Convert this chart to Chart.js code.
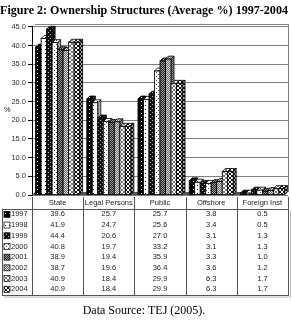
<!DOCTYPE html>
<html>
<head>
<meta charset="utf-8">
<script src="https://cdn.jsdelivr.net/npm/chart.js@4"></script>
<style>
  body { margin: 0; background: #fff; }
  canvas { display: block; }
</style>
</head>
<body>
<canvas id="myChart" width="292" height="323"></canvas>
<script>
// categories and years (series)
const categories = ['State', 'Legal Persons', 'Public', 'Offshore', 'Foreign Inst'];
const years = ['1997', '1998', '1999', '2000', '2001', '2002', '2003', '2004'];

// values per year, same order as categories
const v1997 = [39.6, 25.7, 25.7, 3.8, 0.5];
const v1998 = [41.9, 24.7, 25.6, 3.4, 0.5];
const v1999 = [44.4, 20.6, 27.0, 3.1, 1.3];
const v2000 = [40.8, 19.7, 33.2, 3.1, 1.3];
const v2001 = [38.9, 19.4, 35.9, 3.3, 1.0];
const v2002 = [38.7, 19.6, 36.4, 3.6, 1.2];
const v2003 = [40.9, 18.4, 29.9, 6.3, 1.7];
const v2004 = [40.9, 18.4, 29.9, 6.3, 1.7];
const values = [v1997, v1998, v1999, v2000, v2001, v2002, v2003, v2004];

const yTicks = [0, 5, 10, 15, 20, 25, 30, 35, 40, 45];

// small 4x4 fill patterns, like the old Excel b/w fills
const CHECK = [[0,0],[2,0],[1,1],[3,1],[0,2],[2,2],[1,3],[3,3]];
const CROSS = [[0,0],[1,1],[2,2],[3,3],[3,0],[2,1],[1,2],[0,3]];
function makePattern(bg, fg, dots) {
  let c = document.createElement('canvas');
  c.width = 4; c.height = 4;
  let g = c.getContext('2d');
  g.fillStyle = bg;
  g.fillRect(0, 0, 4, 4);
  g.fillStyle = fg;
  dots.forEach(d => g.fillRect(d[0], d[1], 1, 1));
  return g.createPattern(c, 'repeat');
}
const fills = [
  makePattern('#000', '#fff', [[1,1]]),
  makePattern('#fff', '#000', [[1,1]]),
  makePattern('#111', '#bbb', [[0,0],[2,2]]),
  makePattern('#fff', '#444', [[0,0],[2,2]]),
  makePattern('#222', '#999', CHECK),
  makePattern('#666', '#ddd', CHECK),
  makePattern('#fff', '#777', CROSS),
  makePattern('#fff', '#111', CROSS)
];

const DEPTH = 3;
const txtFont = '7.5px "Liberation Sans"';

// draws the 3D faces of the bars, floor, back wall and the data table
const excelLook = {
  id: 'excelLook',
  beforeDatasetsDraw(chart) {
    const ctx = chart.ctx, a = chart.chartArea;
    ctx.save();
    // back wall outline
    ctx.strokeStyle = '#808080';
    ctx.lineWidth = 1;
    ctx.beginPath();
    ctx.moveTo(a.left + DEPTH, a.top - DEPTH + 0.5);
    ctx.lineTo(a.right + 0.5, a.top - DEPTH + 0.5);
    ctx.lineTo(a.right + 0.5, a.bottom - DEPTH);
    ctx.stroke();
    // floor
    ctx.fillStyle = '#555';
    ctx.beginPath();
    ctx.moveTo(a.left, a.bottom);
    ctx.lineTo(a.right - DEPTH, a.bottom);
    ctx.lineTo(a.right, a.bottom - DEPTH);
    ctx.lineTo(a.left + DEPTH, a.bottom - DEPTH);
    ctx.closePath();
    ctx.fill();
    ctx.restore();
  },
  afterDatasetsDraw(chart) {
    const ctx = chart.ctx;
    ctx.save();
    ctx.lineWidth = 0.8;
    ctx.strokeStyle = '#000';
    for (let j = 0; j < categories.length; j++) {
      for (let i = 0; i < years.length; i++) {
        const bar = chart.getDatasetMeta(i).data[j];
        const l = bar.x - bar.width / 2, r = bar.x + bar.width / 2;
        const t = bar.y, b = bar.base;
        // right side face
        ctx.fillStyle = fills[i];
        ctx.beginPath();
        ctx.moveTo(r, b);
        ctx.lineTo(r + DEPTH, b - DEPTH);
        ctx.lineTo(r + DEPTH, t - DEPTH);
        ctx.lineTo(r, t);
        ctx.closePath();
        ctx.fill();
        ctx.fillStyle = 'rgba(0,0,0,0.3)';
        ctx.fill();
        ctx.stroke();
        // top face
        ctx.fillStyle = fills[i];
        ctx.beginPath();
        ctx.moveTo(l, t);
        ctx.lineTo(l + DEPTH, t - DEPTH);
        ctx.lineTo(r + DEPTH, t - DEPTH);
        ctx.lineTo(r, t);
        ctx.closePath();
        ctx.fill();
        ctx.stroke();
        // front
        ctx.fillRect(l, t, r - l, b - t);
        ctx.strokeRect(l, t, r - l, b - t);
      }
    }
    ctx.restore();
  },
  afterDraw(chart) {
    const ctx = chart.ctx, a = chart.chartArea;
    const xs = chart.scales.x;
    const colW = xs.getPixelForValue(1) - xs.getPixelForValue(0);
    const tLeft = 2;
    const tTop = a.bottom + 2;
    const headH = 11.5;
    const rowH = 10.7;
    const tBottom = tTop + headH + rowH * years.length + 1;
    const colEdge = k => xs.getPixelForValue(0) - colW / 2 + k * colW;

    ctx.save();
    // "%" axis label
    ctx.font = txtFont;
    ctx.fillStyle = '#222';
    ctx.textAlign = 'left';
    ctx.textBaseline = 'middle';
    ctx.fillText('%', 4, (a.top + a.bottom) / 2 - 1);

    // table lines
    ctx.strokeStyle = '#555';
    ctx.lineWidth = 1;
    ctx.beginPath();
    for (let k = 0; k <= categories.length; k++) {
      const x = Math.round(colEdge(k)) + 0.5;
      ctx.moveTo(x, tTop);
      ctx.lineTo(x, tBottom);
    }
    ctx.moveTo(tLeft + 0.5, tTop + headH);
    ctx.lineTo(tLeft + 0.5, tBottom);
    ctx.moveTo(tLeft, Math.round(tTop + headH) + 0.5);
    ctx.lineTo(colEdge(categories.length), Math.round(tTop + headH) + 0.5);
    ctx.moveTo(tLeft, Math.round(tBottom) + 0.5);
    ctx.lineTo(colEdge(categories.length) + 1, Math.round(tBottom) + 0.5);
    ctx.stroke();
    // light shadow on the right
    ctx.strokeStyle = '#bbb';
    ctx.beginPath();
    ctx.moveTo(Math.round(colEdge(categories.length)) + 2.5, tTop + headH + 2);
    ctx.lineTo(Math.round(colEdge(categories.length)) + 2.5, tBottom + 2);
    ctx.lineTo(tLeft + 2, tBottom + 2);
    ctx.stroke();

    // header
    ctx.fillStyle = '#222';
    ctx.textAlign = 'center';
    categories.forEach((c, j) => {
      ctx.fillText(c, xs.getPixelForValue(j), tTop + headH / 2 + 0.5);
    });
    // rows
    years.forEach((y, i) => {
      const cy = tTop + headH + rowH * (i + 0.5) + 0.5;
      ctx.fillStyle = fills[i];
      ctx.fillRect(4, cy - 3, 6, 6);
      ctx.strokeStyle = '#000';
      ctx.lineWidth = 0.7;
      ctx.strokeRect(4, cy - 3, 6, 6);
      ctx.fillStyle = '#222';
      ctx.textAlign = 'left';
      ctx.fillText(y, 11, cy);
      ctx.textAlign = 'center';
      values[i].forEach((v, j) => {
        ctx.fillText(v.toFixed(1), xs.getPixelForValue(j), cy);
      });
    });
    ctx.restore();
  }
};

let ctx = document.getElementById('myChart').getContext('2d');
let myChart = new Chart(ctx, {
  type: 'bar',
  data: {
    labels: categories,
    datasets: years.map((y, i) => ({
      label: y,
      data: values[i],
      backgroundColor: fills[i],
      borderColor: '#000',
      borderWidth: 0.8,
      categoryPercentage: 0.86,
      barPercentage: 1.0
    }))
  },
  options: {
    responsive: false,
    animation: false,
    events: [],
    layout: { padding: { left: 0, right: 4, top: 0, bottom: 0 } },
    plugins: {
      legend: { display: false },
      tooltip: { enabled: false },
      title: {
        display: true,
        text: 'Figure 2: Ownership Structures (Average %) 1997-2004',
        color: '#000',
        font: { family: '"Liberation Serif"', size: 12.9, weight: 'bold' },
        padding: { top: 3, bottom: 8.5 }
      },
      subtitle: {
        display: true,
        position: 'bottom',
        text: 'Data Source: TEJ (2005).',
        color: '#000',
        font: { family: '"Liberation Serif"', size: 12 },
        padding: { top: 6.8, bottom: 4.8 }
      }
    },
    scales: {
      x: {
        grid: { display: false },
        border: { display: false },
        ticks: { display: false },
        afterFit(scale) { scale.height = 102; }
      },
      y: {
        min: 0,
        max: 45,
        afterBuildTicks(scale) { scale.ticks = yTicks.map(v => ({ value: v })); },
        afterFit(scale) { scale.width = 32; },
        ticks: {
          callback: v => v.toFixed(1),
          color: '#333',
          padding: 2,
          font: { family: '"Liberation Sans"', size: 7.5 }
        },
        grid: { color: '#808080', tickColor: '#000', tickLength: 4 },
        border: { color: '#000' }
      }
    }
  },
  plugins: [excelLook]
});
</script>
</body>
</html>
